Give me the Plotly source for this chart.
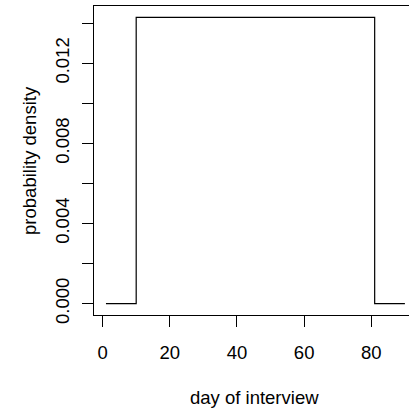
import plotly.graph_objects as go

# Data: uniform density over days 10..80 drawn as a step function
days = [1, 10, 81, 90]
density = [0.0, 1 / 70, 0.0, 0.0]

x_ticks = [0, 20, 40, 60, 80]
y_ticks = [0.0, 0.002, 0.004, 0.006, 0.008, 0.010, 0.012, 0.014]
y_tick_labels = ["0.000", "", "0.004", "", "0.008", "", "0.012", ""]

FONT = "Liberation Sans, Arial, Helvetica, sans-serif"
FS = 18.5

fig = go.Figure()
fig.add_trace(go.Scatter(
    x=days, y=density, mode="lines",
    line=dict(color="black", width=1.2, shape="hv"),
    showlegend=False, hoverinfo="skip",
))

fig.update_layout(
    width=409, height=412,
    margin=dict(l=94, r=0, t=6, b=97),
    paper_bgcolor="white", plot_bgcolor="white",
    font=dict(family=FONT, size=FS, color="black"),
    xaxis=dict(
        range=[-2.56, 91.22],
        tickvals=x_ticks, ticktext=[str(v) for v in x_ticks],
        ticks="outside", ticklen=11, tickwidth=1, tickcolor="black",
        ticklabelstandoff=10,
        showline=True, linecolor="black", linewidth=1, mirror=True,
        showgrid=False, zeroline=False,
        tickfont=dict(family=FONT, size=FS, color="black"),
    ),
    yaxis=dict(
        range=[-0.000571, 0.014857],
        tickvals=y_ticks, ticktext=y_tick_labels,
        tickangle=-90,
        ticks="outside", ticklen=11, tickwidth=1, tickcolor="black",
        ticklabelstandoff=6,
        showline=True, linecolor="black", linewidth=1, mirror=False,
        showgrid=False, zeroline=False,
        tickfont=dict(family=FONT, size=FS, color="black"),
    ),
    annotations=[
        dict(text="day of interview", xref="paper", yref="paper",
             x=0.51, y=-0.266, showarrow=False, xanchor="center", yanchor="middle",
             font=dict(family=FONT, size=FS, color="black")),
        dict(text="probability density", xref="paper", yref="paper",
             x=-0.205, y=0.5, showarrow=False, textangle=-90,
             xanchor="center", yanchor="middle",
             font=dict(family=FONT, size=FS, color="black")),
    ],
)

fig.write_html("out.html")
